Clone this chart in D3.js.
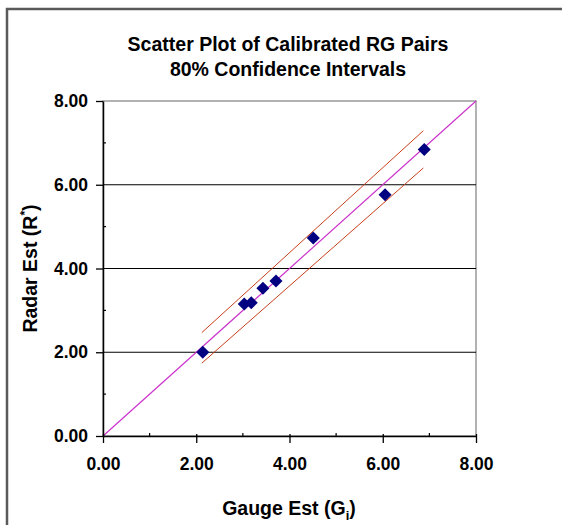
<!DOCTYPE html>
<html><head><meta charset="utf-8">
<script src="https://cdn.jsdelivr.net/npm/d3@7"></script>
<style>html,body{margin:0;padding:0;background:#fff;}svg{display:block;}</style>
</head><body>
<script>
const gaugeEst = [2.14, 3.03, 3.18, 3.43, 3.71, 4.51, 6.05, 6.89];
const radarEst = [2.00, 3.15, 3.18, 3.53, 3.70, 4.73, 5.76, 6.84];
const ciX = [2.12, 6.87];
const ciUpper = [2.47, 7.29];
const ciLower = [1.74, 6.40];
const identityLine = [0, 8];
const majorTicks = [0, 2, 4, 6, 8];
const minorTicks = [1, 3, 5, 7];
const gridValues = [2, 4, 6];

const W = 562, H = 525;
const svg = d3.select("body").append("svg").attr("width", W).attr("height", H);
const font = "'Liberation Sans', Arial, sans-serif";

// outer frame
svg.append("rect").attr("x", 7).attr("y", 9).attr("width", W + 10).attr("height", H + 10)
  .attr("fill", "none").attr("stroke", "#5a5a5a").attr("stroke-width", 2.5);

const L = 103, R = 476, T = 101, B = 436;
const x = d3.scaleLinear().domain([0, 8]).range([L, R]);
const y = d3.scaleLinear().domain([0, 8]).range([B, T]);

// plot border (gray)
svg.append("rect").attr("x", L).attr("y", T).attr("width", R - L).attr("height", B - T)
  .attr("fill", "none").attr("stroke", "#999").attr("stroke-width", 1.5);

// gridlines
svg.selectAll(".grid").data(gridValues).enter().append("line")
  .attr("x1", L).attr("x2", R).attr("y1", d => y(d)).attr("y2", d => y(d))
  .attr("stroke", "#000").attr("stroke-width", 1.2);

// identity line
svg.append("line").attr("x1", x(identityLine[0])).attr("y1", y(identityLine[0]))
  .attr("x2", x(identityLine[1])).attr("y2", y(identityLine[1]))
  .attr("stroke", "#cc33cc").attr("stroke-width", 1.2);

// CI lines
const line = d3.line().x(d => x(d[0])).y(d => y(d[1]));
svg.append("path").datum(ciX.map((v, i) => [v, ciUpper[i]])).attr("d", line)
  .attr("fill", "none").attr("stroke", "#c8401c").attr("stroke-width", 1);
svg.append("path").datum(ciX.map((v, i) => [v, ciLower[i]])).attr("d", line)
  .attr("fill", "none").attr("stroke", "#c8401c").attr("stroke-width", 1);

// points
svg.selectAll(".pt").data(gaugeEst).enter().append("path")
  .attr("d", d3.symbol().type(d3.symbolSquare).size(85))
  .attr("transform", (d, i) => `translate(${x(d)},${y(radarEst[i])}) rotate(45)`)
  .attr("fill", "#000080");

// axes
const xAxis = svg.append("g").attr("transform", `translate(0,${B})`)
  .call(d3.axisBottom(x).tickValues(majorTicks).tickFormat(d3.format(".2f")).tickSize(7).tickSizeOuter(0));
xAxis.select(".domain").attr("stroke", "#000").attr("stroke-width", 1.5);
xAxis.selectAll(".tick line").attr("stroke", "#000").attr("stroke-width", 1.3).attr("y1", -2);
xAxis.selectAll(".tick text").attr("font-family", font).attr("font-size", 17.5).attr("font-weight", "bold")
  .attr("fill", "#000").attr("y", 22).attr("dy", "0.71em");
svg.append("g").selectAll("line").data(minorTicks).enter().append("line")
  .attr("x1", d => x(d)).attr("x2", d => x(d)).attr("y1", B).attr("y2", B - 3)
  .attr("stroke", "#000").attr("stroke-width", 1.2);

const yAxis = svg.append("g").attr("transform", `translate(${L},0)`)
  .call(d3.axisLeft(y).tickValues(majorTicks).tickFormat(d3.format(".2f")).tickSize(7).tickSizeOuter(0));
yAxis.select(".domain").attr("stroke", "#000").attr("stroke-width", 1.5);
yAxis.selectAll(".tick line").attr("stroke", "#000").attr("stroke-width", 1.3);
yAxis.selectAll(".tick text").attr("font-family", font).attr("font-size", 17.5).attr("font-weight", "bold")
  .attr("fill", "#000").attr("x", -15);
svg.append("g").selectAll("line").data(minorTicks).enter().append("line")
  .attr("x1", L).attr("x2", L + 3).attr("y1", d => y(d)).attr("y2", d => y(d))
  .attr("stroke", "#000").attr("stroke-width", 1.2);

// title
const title = svg.append("text").attr("text-anchor", "middle").attr("font-family", font)
  .attr("font-size", 19.5).attr("font-weight", "bold").attr("fill", "#000");
title.append("tspan").attr("x", 288).attr("y", 51).text("Scatter Plot of Calibrated RG Pairs");
title.append("tspan").attr("x", 288).attr("y", 76).text("80% Confidence Intervals");

// x title
const xt = svg.append("text").attr("x", 289).attr("y", 515).attr("text-anchor", "middle")
  .attr("font-family", font).attr("font-size", 19.5).attr("font-weight", "bold").attr("fill", "#000");
xt.append("tspan").text("Gauge Est (G");
xt.append("tspan").attr("font-size", 13).attr("dy", 5).text("i");
xt.append("tspan").attr("dy", -5).text(")");

// y title
const yt = svg.append("text").attr("transform", `translate(37,${(T + B) / 2}) rotate(-90)`)
  .attr("text-anchor", "middle")
  .attr("font-family", font).attr("font-size", 19.5).attr("font-weight", "bold").attr("fill", "#000");
yt.append("tspan").text("Radar Est (R");
yt.append("tspan").attr("font-size", 12).attr("dy", -8).text("*");
yt.append("tspan").attr("dy", 8).text(")");
</script>
</body></html>
